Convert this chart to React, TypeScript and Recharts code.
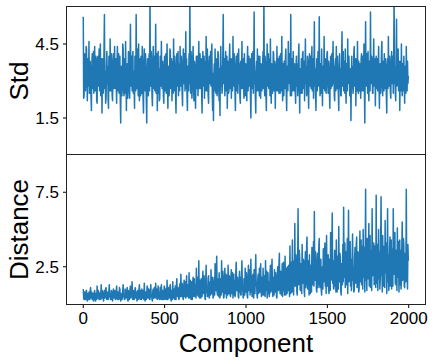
import { LineChart, Line, XAxis, YAxis } from 'recharts';

// one sample every 2.5 components (0 .. 1997.5)
const STEP = 2.5;

const stdValues = [
  5.6, 2.3, 2.4, 4.1, 3.8, 2.6, 2.9, 4.4, 4.3, 3.0, 2.2, 3.9, 3.5, 2.8, 4.6, 2.5, 2.7, 3.8, 3.1, 2.4, 1.8, 3.6, 4.1, 2.7, 3.3, 4.2, 2.5, 3.4, 4.4, 2.6, 2.9, 4.0, 3.7, 2.2, 2.1, 3.9, 4.0, 2.8, 3.2, 4.3,
  2.6, 3.7, 4.5, 2.4, 3.0, 3.9, 1.7, 3.2, 3.9, 2.5, 2.8, 4.3, 5.7, 2.7, 3.4, 2.1, 2.3, 3.6, 4.2, 2.9, 3.6, 2.3, 1.9, 4.0, 3.1, 2.6, 4.7, 3.3, 2.6, 4.1, 3.8, 2.4, 2.2, 3.5, 4.1, 2.7, 3.0, 4.4, 2.7, 3.6,
  3.9, 2.9, 2.1, 3.8, 4.4, 2.6, 3.2, 4.1, 2.5, 3.4, 4.0, 2.2, 1.3, 3.5, 3.6, 2.4, 2.8, 4.5, 4.3, 2.7, 2.4, 3.9, 3.3, 2.5, 4.6, 3.0, 1.8, 3.4, 3.7, 2.3, 2.9, 4.2, 4.1, 2.6, 2.3, 3.8, 5.3, 2.8, 3.0, 4.0,
  2.6, 3.7, 4.2, 2.5, 3.4, 2.8, 1.9, 4.0, 3.8, 2.6, 5.7, 3.1, 2.7, 4.3, 3.5, 2.4, 4.5, 3.0, 2.2, 3.9, 3.1, 2.4, 4.0, 2.9, 2.5, 4.4, 3.6, 2.3, 1.7, 3.5, 4.3, 2.6, 2.9, 4.1, 3.3, 2.2, 1.3, 3.4, 3.9, 2.7,
  2.4, 3.6, 4.1, 2.6, 6.5, 3.0, 2.8, 4.2, 3.7, 2.4, 2.0, 3.8, 4.4, 2.7, 3.2, 4.0, 2.6, 3.5, 5.3, 2.5, 3.0, 4.1, 1.8, 3.3, 4.2, 2.5, 3.5, 2.2, 2.3, 4.0, 3.9, 2.8, 4.6, 3.1, 2.7, 3.8, 3.1, 2.4, 2.1, 3.7,
  4.0, 2.6, 3.3, 4.1, 2.5, 3.6, 4.5, 2.8, 1.9, 3.3, 3.6, 2.4, 2.9, 4.3, 4.2, 2.7, 3.1, 3.9, 2.2, 3.5, 3.8, 2.5, 4.7, 3.0, 2.6, 4.0, 3.4, 2.3, 1.7, 3.6, 4.1, 2.8, 3.0, 4.2, 2.4, 3.4, 3.7, 2.6, 4.4, 3.1,
  2.8, 4.0, 3.5, 2.5, 2.0, 3.7, 4.3, 2.9, 3.2, 4.1, 2.6, 3.4, 5.0, 2.7, 3.9, 2.4, 1.8, 3.6, 3.4, 2.6, 4.1, 2.9, 6.5, 3.2, 2.5, 4.2, 3.7, 2.3, 2.9, 3.9, 4.4, 2.8, 2.2, 3.8, 3.6, 2.4, 1.9, 3.5, 4.0, 2.7,
  3.1, 4.0, 2.4, 3.5, 4.6, 2.7, 3.3, 4.1, 2.7, 3.6, 3.9, 2.5, 1.7, 3.4, 4.2, 2.8, 3.0, 4.0, 2.3, 3.7, 3.8, 2.6, 4.8, 3.1, 2.6, 4.3, 3.5, 2.4, 2.1, 3.6, 4.0, 2.9, 3.2, 4.2, 2.8, 3.9, 4.5, 2.6, 1.8, 3.3,
  1.4, 3.2, 3.7, 2.6, 4.3, 3.1, 2.5, 3.9, 3.4, 2.4, 2.9, 4.2, 4.1, 2.7, 2.2, 3.5, 1.6, 3.3, 4.4, 2.8, 3.6, 2.5, 2.7, 4.0, 5.7, 2.9, 3.0, 3.9, 2.4, 3.4, 4.2, 2.6, 3.3, 4.0, 1.9, 3.1, 3.8, 2.5, 2.6, 3.9,
  4.5, 2.7, 3.1, 3.9, 2.3, 3.6, 3.9, 2.6, 4.8, 3.0, 2.8, 4.1, 3.4, 2.5, 1.8, 3.5, 4.0, 2.6, 3.2, 4.1, 2.5, 3.6, 4.3, 2.9, 3.7, 2.4, 2.1, 3.8, 3.5, 2.7, 4.6, 3.1, 2.7, 3.9, 3.0, 2.3, 4.1, 3.3, 2.4, 3.7,
  3.6, 2.8, 2.2, 3.8, 4.4, 2.6, 3.3, 4.0, 2.8, 3.5, 3.9, 2.4, 1.5, 3.2, 4.1, 2.7, 3.0, 4.2, 2.5, 3.6, 5.8, 2.9, 3.4, 2.3, 1.7, 3.5, 3.8, 2.6, 4.3, 3.0, 2.6, 4.0, 3.1, 2.4, 4.0, 2.8, 2.3, 3.7, 3.5, 2.6,
  2.9, 3.8, 4.2, 2.7, 6.5, 3.1, 2.4, 4.0, 3.6, 2.5, 1.8, 3.4, 4.5, 2.8, 3.2, 4.1, 2.7, 3.5, 3.9, 2.4, 4.7, 3.0, 2.1, 3.7, 3.4, 2.5, 2.8, 4.2, 4.1, 2.6, 3.0, 3.8, 1.9, 3.3, 3.7, 2.6, 4.4, 3.1, 2.6, 3.9,
  3.3, 2.5, 4.0, 3.0, 2.5, 4.1, 3.6, 2.6, 4.8, 3.0, 2.2, 3.7, 3.1, 2.4, 3.8, 2.7, 2.7, 4.0, 4.3, 2.5, 1.8, 3.6, 3.5, 2.6, 4.6, 3.2, 2.9, 4.1, 3.2, 2.4, 5.7, 3.0, 2.4, 3.8, 3.9, 2.6, 4.2, 3.1, 2.6, 3.7,
  3.4, 2.6, 2.1, 3.7, 4.0, 2.8, 3.7, 2.4, 2.8, 4.0, 4.5, 2.9, 1.7, 3.5, 3.3, 2.5, 3.9, 2.8, 2.5, 4.1, 4.2, 2.7, 3.0, 3.8, 2.2, 3.4, 4.7, 2.9, 3.6, 2.4, 2.6, 4.0, 3.8, 2.7, 1.9, 3.6, 4.1, 2.8, 3.1, 4.0,
  2.7, 3.8, 4.4, 2.6, 3.2, 3.9, 2.3, 3.5, 5.4, 2.8, 3.5, 2.4, 1.8, 3.4, 3.9, 2.6, 2.9, 4.2, 4.1, 2.8, 5.6, 3.1, 2.4, 3.7, 3.6, 2.5, 4.3, 3.0, 2.0, 3.6, 3.3, 2.7, 4.8, 3.0, 2.6, 3.9, 3.7, 2.5, 3.0, 4.1,
  4.2, 2.9, 2.5, 3.8, 3.4, 2.6, 1.9, 3.5, 4.0, 2.7, 3.1, 4.1, 2.8, 3.6, 4.6, 2.9, 3.6, 2.4, 2.2, 3.7, 3.9, 2.6, 4.4, 3.1, 2.7, 4.0, 3.2, 2.5, 1.8, 3.4, 4.1, 2.7, 3.5, 2.4, 2.4, 3.9, 5.0, 2.8, 3.0, 4.2,
  2.6, 3.6, 3.8, 2.5, 4.3, 2.9, 2.1, 3.7, 3.5, 2.6, 4.7, 3.0, 2.9, 4.0, 3.2, 2.4, 2.4, 3.5, 1.4, 3.2, 4.0, 2.7, 3.6, 2.5, 2.7, 4.1, 4.4, 2.8, 3.1, 3.9, 2.0, 3.4, 3.9, 2.6, 4.6, 3.0, 2.5, 3.8, 3.3, 2.6,
  3.7, 2.7, 2.3, 3.9, 4.1, 2.6, 3.0, 4.0, 2.6, 3.5, 4.5, 2.8, 1.3, 3.4, 5.4, 2.9, 2.8, 4.1, 3.6, 2.5, 4.2, 3.0, 2.2, 3.8, 3.4, 2.6, 5.8, 3.1, 2.9, 4.0, 3.8, 2.5, 2.5, 3.7, 4.7, 2.8, 3.1, 3.9, 2.0, 3.5,
  4.0, 2.7, 3.3, 3.9, 2.6, 3.6, 4.4, 2.8, 1.9, 3.4, 3.7, 2.5, 3.0, 4.2, 4.6, 2.9, 2.4, 3.8, 3.5, 2.6, 4.1, 3.0, 2.7, 3.9, 3.2, 2.4, 1.7, 3.6, 3.9, 2.7, 4.8, 3.1, 2.8, 4.0, 3.4, 2.5, 2.3, 3.8, 4.2, 2.9,
  3.1, 4.0, 2.5, 3.7, 6.5, 2.9, 3.6, 2.5, 2.2, 3.9, 5.5, 2.8, 3.0, 4.1, 4.3, 2.6, 2.7, 3.8, 1.8, 3.3, 3.8, 2.6, 4.5, 3.0, 2.4, 3.7, 3.3, 2.6, 4.0, 2.9, 2.1, 3.6, 3.6, 2.5, 4.4, 3.1, 2.6, 3.8, 2.9, 3.2,
];

const distanceValues = [
  1.0, 0.4, 0.3, 0.8, 0.7, 0.3, 0.4, 0.9, 0.9, 0.3, 0.2, 0.7, 0.6, 0.3, 0.8, 0.4, 0.3, 0.9, 1.1, 0.4, 0.5, 0.8, 0.3, 0.6, 0.7, 0.2, 0.4, 0.8, 0.9, 0.3, 0.2, 0.7, 0.6, 0.3, 1.2, 0.5, 0.4, 0.9, 0.5, 0.3,
  0.3, 0.7, 0.8, 0.3, 1.3, 0.5, 0.4, 0.9, 0.6, 0.3, 0.2, 0.8, 0.9, 0.4, 0.5, 1.0, 1.1, 0.4, 0.3, 0.8, 0.7, 0.3, 0.4, 0.9, 1.3, 0.5, 0.6, 0.3, 0.3, 0.9, 0.8, 0.4, 0.2, 0.7, 1.0, 0.4, 0.5, 0.9, 0.7, 0.3,
  0.4, 0.9, 1.2, 0.4, 0.3, 0.8, 0.8, 0.3, 0.5, 1.1, 1.0, 0.4, 0.2, 0.6, 0.7, 0.3, 0.4, 0.9, 1.3, 0.5, 0.6, 0.3, 0.3, 1.0, 0.9, 0.4, 0.5, 0.8, 1.1, 0.3, 0.2, 0.9, 0.7, 0.3, 0.4, 1.0, 1.2, 0.4, 0.6, 0.8,
  1.5, 0.5, 0.3, 0.9, 0.8, 0.3, 0.5, 1.0, 1.1, 0.4, 0.4, 0.8, 0.2, 0.6, 0.9, 0.3, 0.6, 1.0, 1.3, 0.4, 0.3, 0.9, 0.7, 0.3, 1.0, 0.5, 0.4, 0.9, 0.6, 0.3, 1.4, 0.5, 0.2, 0.7, 0.8, 0.3, 0.5, 1.2, 1.1, 0.4,
  0.4, 1.0, 0.9, 0.3, 0.3, 0.8, 1.3, 0.5, 0.6, 0.3, 0.2, 0.9, 1.0, 0.4, 0.7, 1.1, 0.4, 0.8, 1.4, 0.4, 0.5, 1.0, 0.3, 0.7, 1.2, 0.4, 0.8, 0.3, 0.4, 1.1, 0.6, 0.3, 1.3, 0.5, 0.3, 0.9, 0.9, 0.3, 0.5, 1.2,
  1.1, 0.3, 0.4, 1.0, 0.7, 0.3, 1.6, 0.5, 0.3, 1.1, 0.9, 0.4, 0.5, 1.2, 1.3, 0.4, 0.2, 0.9, 0.8, 0.3, 1.5, 0.6, 0.4, 1.0, 0.6, 0.3, 1.2, 0.5, 0.3, 1.3, 1.7, 0.6, 0.5, 1.1, 0.9, 0.3, 0.4, 1.2, 1.4, 0.5,
  2.0, 0.6, 0.5, 1.4, 1.1, 0.4, 0.3, 1.2, 1.6, 0.5, 0.7, 1.5, 0.4, 0.9, 1.9, 0.5, 0.6, 1.3, 1.2, 0.4, 2.1, 0.7, 0.4, 1.6, 0.8, 0.3, 1.5, 0.6, 0.3, 1.4, 1.8, 0.5, 0.9, 1.7, 0.5, 1.0, 1.3, 0.4, 2.4, 0.8,
  0.6, 1.8, 1.4, 0.5, 2.9, 0.9, 0.4, 1.6, 1.0, 0.4, 1.7, 0.6, 0.5, 1.5, 2.2, 0.7, 0.8, 1.9, 1.3, 0.4, 0.3, 1.4, 2.6, 0.8, 1.1, 0.5, 0.6, 1.7, 1.9, 0.5, 0.4, 1.3, 1.5, 0.6, 2.3, 0.9, 0.7, 1.8, 1.2, 0.4,
  0.5, 1.5, 1.8, 0.6, 2.7, 1.1, 0.9, 2.0, 3.2, 0.8, 0.6, 1.7, 1.4, 0.5, 2.1, 0.9, 0.4, 1.6, 1.7, 0.6, 2.9, 1.2, 0.8, 2.2, 1.2, 0.4, 0.5, 1.8, 2.4, 0.7, 1.0, 2.0, 0.4, 1.3, 1.9, 0.6, 2.6, 1.1, 0.7, 1.9,
  1.5, 0.6, 0.5, 1.9, 2.3, 0.7, 1.1, 2.1, 0.4, 1.4, 2.0, 0.6, 1.6, 0.5, 0.7, 2.2, 2.8, 0.9, 0.9, 1.8, 1.3, 0.5, 0.4, 1.6, 2.2, 0.8, 1.8, 0.6, 0.6, 2.0, 2.9, 1.1, 1.0, 0.4, 0.5, 1.7, 1.7, 0.6, 2.4, 1.0,
  0.8, 2.1, 1.4, 0.5, 0.4, 1.8, 2.6, 0.9, 1.2, 2.3, 0.6, 1.5, 3.0, 0.8, 1.9, 0.5, 0.5, 2.0, 1.1, 0.4, 2.3, 1.0, 0.7, 2.1, 3.3, 1.2, 1.5, 0.6, 0.4, 1.7, 2.0, 0.7, 1.3, 2.4, 0.8, 1.6, 2.7, 0.9, 0.5, 1.8,
  1.6, 0.6, 2.4, 1.1, 0.6, 1.9, 1.2, 0.5, 2.9, 1.3, 0.9, 2.2, 0.4, 1.6, 2.1, 0.7, 1.5, 0.5, 0.7, 2.0, 2.6, 0.8, 1.0, 2.3, 3.0, 1.1, 0.5, 1.7, 1.8, 0.6, 2.3, 1.0, 0.8, 2.1, 1.3, 0.5, 0.4, 1.9, 2.5, 0.9,
  1.1, 2.6, 3.4, 1.0, 0.7, 2.2, 2.0, 0.6, 1.4, 2.7, 0.5, 1.8, 2.8, 0.9, 1.7, 0.6, 3.2, 1.3, 0.6, 2.4, 1.9, 0.7, 2.5, 1.2, 0.9, 2.6, 1.3, 0.5, 3.9, 1.4, 0.7, 2.8, 2.2, 0.8, 4.3, 1.6, 1.5, 0.6, 2.9, 1.2,
  5.4, 1.5, 1.2, 3.3, 2.6, 0.8, 0.6, 2.9, 6.4, 1.3, 1.8, 3.6, 3.1, 1.0, 0.9, 2.7, 2.3, 0.7, 4.0, 1.6, 1.4, 3.0, 2.8, 0.9, 0.5, 2.5, 3.5, 1.1, 1.9, 3.8, 4.5, 1.3, 1.0, 2.9, 2.4, 0.6, 3.3, 1.5, 0.7, 2.6,
  2.1, 0.8, 3.8, 1.4, 1.3, 3.1, 4.2, 1.2, 6.2, 2.0, 1.6, 3.5, 2.9, 1.0, 0.8, 2.6, 3.4, 1.1, 2.0, 3.9, 4.4, 1.3, 1.1, 2.8, 3.0, 0.9, 0.6, 2.4, 2.5, 1.0, 3.7, 1.7, 1.5, 3.2, 4.1, 1.2, 2.7, 0.7, 4.6, 1.8,
  1.2, 2.8, 3.3, 1.0, 0.7, 3.0, 2.4, 0.9, 4.8, 1.6, 1.8, 3.7, 6.1, 1.4, 2.9, 1.1, 1.0, 2.5, 3.6, 1.2, 2.2, 0.8, 4.3, 1.7, 0.8, 3.2, 2.6, 1.0, 5.2, 2.1, 1.5, 3.4, 3.1, 0.9, 0.6, 2.7, 2.0, 1.3, 4.0, 1.5,
  6.5, 1.8, 2.3, 4.1, 1.1, 2.7, 3.5, 1.3, 2.8, 4.4, 0.7, 2.2, 6.3, 1.5, 1.9, 3.6, 4.2, 1.2, 3.0, 0.9, 1.4, 3.3, 4.7, 1.6, 2.5, 0.8, 0.9, 3.1, 3.8, 1.4, 1.6, 4.0, 4.5, 1.1, 2.1, 3.5, 3.4, 0.8, 1.0, 2.9,
  4.9, 1.5, 2.7, 4.3, 1.3, 3.0, 3.9, 1.0, 5.0, 1.8, 2.2, 3.8, 0.8, 2.9, 7.7, 1.6, 3.1, 0.9, 4.4, 2.0, 1.7, 3.5, 5.4, 1.2, 2.6, 4.6, 1.1, 2.4, 3.6, 0.9, 6.4, 1.9, 2.0, 3.7, 4.1, 1.3, 1.4, 3.9, 3.2, 1.1,
  7.3, 1.4, 2.4, 4.0, 0.9, 2.6, 5.0, 1.7, 3.5, 1.0, 1.6, 4.2, 7.2, 1.9, 2.8, 0.8, 4.6, 2.0, 1.2, 3.4, 3.9, 1.1, 5.6, 2.5, 2.1, 4.1, 0.7, 2.7, 6.4, 1.5, 3.3, 0.9, 1.8, 3.8, 4.5, 1.2, 2.6, 4.3, 1.0, 2.8,
  3.7, 1.2, 6.4, 2.3, 2.0, 3.9, 4.8, 1.4, 1.3, 3.6, 3.1, 0.9, 5.1, 1.8, 2.5, 4.2, 0.8, 2.6, 4.3, 1.3, 3.6, 1.0, 1.5, 3.8, 5.5, 1.6, 2.2, 4.4, 4.0, 1.2, 1.1, 3.0, 3.4, 1.5, 7.7, 2.1, 2.7, 1.0, 4.0, 2.9,
];

const xTicks = [0, 500, 1000, 1500, 2000];
const stdTicks = [1.5, 4.5];
const distanceTicks = [2.5, 7.5];

const stdData = stdValues.map((v, i) => ({ component: i * STEP, value: v }));
const distanceData = distanceValues.map((v, i) => ({ component: i * STEP, value: v }));

const FONT = '"Liberation Sans", Arial, sans-serif';
const BLUE = '#1f77b4';
const tickStyle = { fill: '#000', fontSize: 17, fontFamily: FONT };
const labelStyle = { fill: '#000', fontSize: 26, fontFamily: FONT };

const frame = (top: number, height: number) => ({
  position: 'absolute' as const,
  left: 66,
  top,
  width: 360,
  height,
  border: '1px solid #222',
  boxSizing: 'border-box' as const,
  pointerEvents: 'none' as const,
});

export default function App() {
  return (
    <div style={{ position: 'absolute', left: 0, top: 0, width: 436, height: 364, background: '#fff', fontFamily: FONT }}>
      <div style={{ position: 'absolute', left: 0, top: 0 }}>
        <LineChart width={436} height={155} data={stdData} margin={{ top: 7, right: 11, bottom: 0, left: 0 }}>
          <XAxis dataKey="component" type="number" domain={[-100, 2100]} hide />
          <YAxis
            type="number"
            domain={[0, 6]}
            ticks={stdTicks}
            allowDataOverflow
            width={67}
            axisLine={false}
            tickLine={{ stroke: '#000' }}
            tickSize={4}
            tickMargin={4}
            tick={tickStyle}
            label={{ value: 'Std', angle: -90, position: 'center', dx: -15, style: labelStyle }}
          />
          <Line
            dataKey="value"
            type="linear"
            stroke={BLUE}
            strokeWidth={1.5}
            strokeLinejoin="round"
            dot={false}
            isAnimationActive={false}
          />
        </LineChart>
      </div>
      <div style={{ position: 'absolute', left: 0, top: 155 }}>
        <LineChart width={436} height={209} data={distanceData} margin={{ top: 0, right: 11, bottom: 0, left: 0 }}>
          <XAxis
            dataKey="component"
            type="number"
            domain={[-100, 2100]}
            ticks={xTicks}
            height={60}
            axisLine={false}
            tickLine={{ stroke: '#000' }}
            tickSize={4}
            tickMargin={4}
            tick={tickStyle}
            label={{ value: 'Component', position: 'insideBottom', offset: 12, style: labelStyle }}
          />
          <YAxis
            type="number"
            domain={[0, 10]}
            ticks={distanceTicks}
            allowDataOverflow
            width={67}
            axisLine={false}
            tickLine={{ stroke: '#000' }}
            tickSize={4}
            tickMargin={4}
            tick={tickStyle}
            label={{ value: 'Distance', angle: -90, position: 'center', dx: -15, style: labelStyle }}
          />
          <Line
            dataKey="value"
            type="linear"
            stroke={BLUE}
            strokeWidth={1.5}
            strokeLinejoin="round"
            dot={false}
            isAnimationActive={false}
          />
        </LineChart>
      </div>
      <div style={frame(6, 149)} />
      <div style={frame(154, 151)} />
    </div>
  );
}
